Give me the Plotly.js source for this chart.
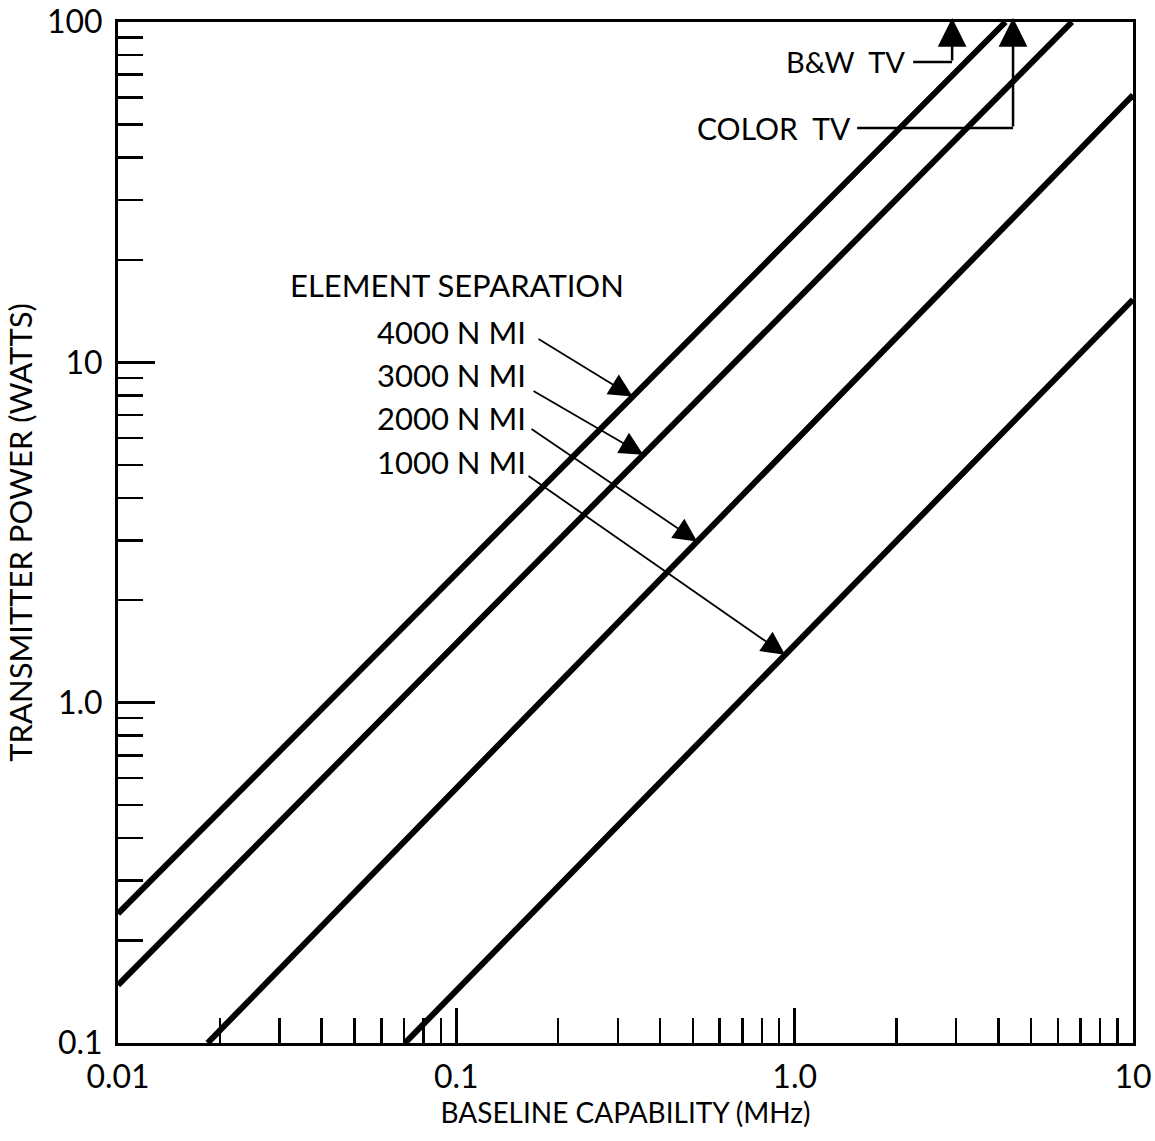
<!DOCTYPE html>
<html>
<head>
<meta charset="utf-8">
<script src="https://cdn.plot.ly/plotly-3.0.1.min.js"></script>
<style>
  html, body { margin: 0; padding: 0; background: #ffffff; }
  #chart { width: 1155px; height: 1141px; }
</style>
</head>
<body>
<div id="chart"></div>
<script>
// ---- Data (log-log straight lines, endpoints) ----
const seriesNames = ["4000 N MI", "3000 N MI", "2000 N MI", "1000 N MI"];
const sep4000_x = [0.01, 4.2];
const sep4000_y = [0.24, 100];
const sep3000_x = [0.01, 6.6];
const sep3000_y = [0.148, 100];
const sep2000_x = [0.0184, 10];
const sep2000_y = [0.1, 61];
const sep1000_x = [0.0705, 10];
const sep1000_y = [0.1, 15.3];

// TV bandwidth markers (MHz)
const bwTV = 2.92;
const colorTV = 4.42;

// Axis tick labels
const xTickVals = [0.01, 0.1, 1, 10];
const xTickText = ["0.01", "0.1", "1.0", "10"];
const yTickVals = [0.1, 1, 10, 100];
const yTickText = ["0.1", "1.0", "10", "100"];
const minorMantissas = [2, 3, 4, 5, 6, 7, 8, 9];
const xDecades = [0.01, 0.1, 1];
const yDecades = [0.1, 1, 10];

const minorX = [];
xDecades.forEach(d => minorMantissas.forEach(m => minorX.push(m * d)));
const minorY = [];
yDecades.forEach(d => minorMantissas.forEach(m => minorY.push(m * d)));

const FONT = "Lato, 'Open Sans', 'DejaVu Sans', sans-serif";
const L = Math.log10;

const lineStyle = { color: "#000000", width: 6 };
const traces = [
  { x: sep4000_x, y: sep4000_y, name: seriesNames[0] },
  { x: sep3000_x, y: sep3000_y, name: seriesNames[1] },
  { x: sep2000_x, y: sep2000_y, name: seriesNames[2] },
  { x: sep1000_x, y: sep1000_y, name: seriesNames[3] }
].map(t => Object.assign(t, { type: "scatter", mode: "lines", line: lineStyle, hoverinfo: "skip" }));

// label positions (log10 units on log axes)
const labelX = -1.240;
const labelY = [1.089, 0.963, 0.836, 0.707];
const tailX = [-0.7615, -0.7763, -0.7822, -0.791];
const tailY = [1.0714, 0.9186, 0.8069, 0.6688];
// arrow tips on the lines
const tipB = [0.332, 0.357, 0.515, 0.937];
function lineAt(xs, ys, b) {
  const lx0 = L(xs[0]), lx1 = L(xs[1]), ly0 = L(ys[0]), ly1 = L(ys[1]);
  return ly0 + (L(b) - lx0) * (ly1 - ly0) / (lx1 - lx0);
}
const seriesXY = [[sep4000_x, sep4000_y], [sep3000_x, sep3000_y], [sep2000_x, sep2000_y], [sep1000_x, sep1000_y]];

const labelFont = { family: FONT, size: 31, color: "#000" };
const annotations = [];
annotations.push({
  x: -1.4975, y: 1.2272, xref: "x", yref: "y", text: "ELEMENT SEPARATION",
  showarrow: false, xanchor: "left", yanchor: "middle", font: labelFont
});
seriesNames.forEach((n, i) => {
  annotations.push({
    x: labelX, y: labelY[i], xref: "x", yref: "y", text: n,
    showarrow: false, xanchor: "left", yanchor: "middle", font: labelFont
  });
  annotations.push({
    x: L(tipB[i]), y: lineAt(seriesXY[i][0], seriesXY[i][1], tipB[i]),
    xref: "x", yref: "y", axref: "x", ayref: "y",
    ax: tailX[i], ay: tailY[i], text: "",
    showarrow: true, arrowhead: 2, arrowsize: 2.6, arrowwidth: 1.8, arrowcolor: "#000",
    standoff: 0, startstandoff: 0
  });
});

// TV labels
const bwY = 1.8825, colorY = 1.6885, tipY = 2.012;
annotations.push({
  x: 0.332, y: bwY, xref: "x", yref: "y", text: "B&amp;W  TV",
  showarrow: false, xanchor: "right", yanchor: "middle",
  font: { family: FONT, size: 29, color: "#000" }
});
annotations.push({
  x: 0.1725, y: colorY, xref: "x", yref: "y", text: "COLOR  TV",
  showarrow: false, xanchor: "right", yanchor: "middle",
  font: { family: FONT, size: 30, color: "#000" }
});
annotations.push({
  x: L(bwTV), y: tipY, xref: "x", yref: "y", axref: "x", ayref: "y",
  ax: L(bwTV), ay: bwY, text: "", showarrow: true, arrowhead: 2,
  arrowsize: 2.3, arrowwidth: 2.5, arrowcolor: "#000", standoff: 0
});
annotations.push({
  x: L(colorTV), y: tipY, xref: "x", yref: "y", axref: "x", ayref: "y",
  ax: L(colorTV), ay: colorY, text: "", showarrow: true, arrowhead: 2,
  arrowsize: 2.3, arrowwidth: 2.5, arrowcolor: "#000", standoff: 0
});

const shapes = [
  { type: "line", xref: "x", yref: "y", x0: 2.24, x1: bwTV, y0: Math.pow(10, bwY), y1: Math.pow(10, bwY),
    line: { color: "#000", width: 2.5 } },
  { type: "line", xref: "x", yref: "y", x0: 1.53, x1: colorTV, y0: Math.pow(10, colorY), y1: Math.pow(10, colorY),
    line: { color: "#000", width: 2.5 } }
];

const axisCommon = {
  type: "log",
  showgrid: false,
  zeroline: false,
  showline: true,
  mirror: true,
  linecolor: "#000",
  linewidth: 3,
  ticks: "inside",
  tickcolor: "#000",
  tickwidth: 2.5,
  tickmode: "array",
  tickfont: { family: FONT, size: 32, color: "#000" },
  automargin: false
};

const layout = {
  width: 1155,
  height: 1141,
  margin: { l: 118, r: 22, t: 22, b: 98, pad: 0 },
  paper_bgcolor: "#ffffff",
  plot_bgcolor: "#ffffff",
  showlegend: false,
  xaxis: Object.assign({}, axisCommon, {
    range: [-2, 1],
    tickvals: xTickVals,
    ticktext: xTickText,
    ticklen: 35,
    ticklabelstandoff: 4,
    minor: { tickmode: "array", tickvals: minorX, ticks: "inside", ticklen: 25, tickwidth: 2.5, tickcolor: "#000", showgrid: false },
    title: { text: "BASELINE CAPABILITY (MHz)", font: { family: FONT, size: 28, color: "#000" }, standoff: 2 }
  }),
  yaxis: Object.assign({}, axisCommon, {
    range: [-1, 2],
    tickvals: yTickVals,
    ticktext: yTickText,
    ticklen: 37,
    ticklabelstandoff: 6,
    minor: { tickmode: "array", tickvals: minorY, ticks: "inside", ticklen: 25, tickwidth: 2.5, tickcolor: "#000", showgrid: false },
    title: { text: "TRANSMITTER POWER (WATTS)", font: { family: FONT, size: 31, color: "#000" }, standoff: 6 }
  }),
  annotations: annotations,
  shapes: shapes
};

Plotly.newPlot("chart", traces, layout, { displayModeBar: false, staticPlot: true });
</script>
</body>
</html>
